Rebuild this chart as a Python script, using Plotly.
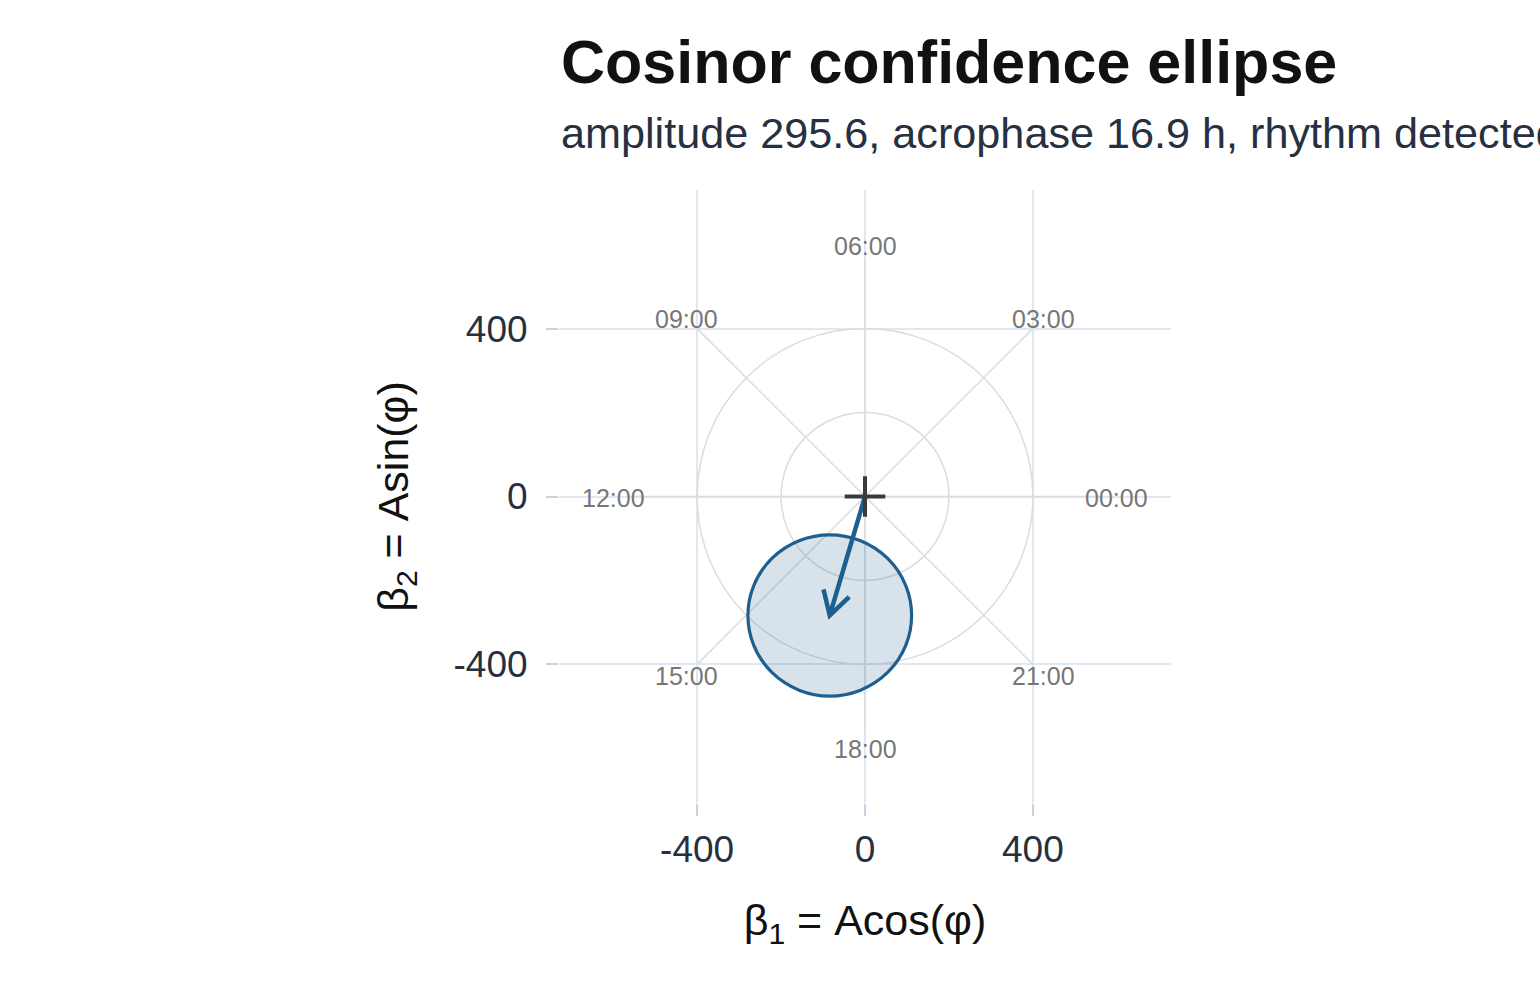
import numpy as np
import plotly.graph_objects as go

# ---- data ----
amplitude = 295.6          # A
acrophase_h = 16.9         # hours
ellipse_semi_x = 195.0     # confidence ellipse half-width (beta1 units)
ellipse_semi_y = 192.0     # confidence ellipse half-height (beta2 units)
ring_radii = [200, 400]
hour_values = [0, 3, 6, 9, 12, 15, 18, 21]
hour_labels = ["00:00", "03:00", "06:00", "09:00", "12:00", "15:00", "18:00", "21:00"]
tick_values = [-400, 0, 400]
tick_labels = ["-400", "0", "400"]

# ---- derived ----
phi = 2 * np.pi * acrophase_h / 24.0
beta1 = amplitude * np.cos(phi)
beta2 = amplitude * np.sin(phi)

FONT = "Liberation Sans, Arial, sans-serif"
BLUE = "#1f5f8f"
GUIDE = "#dcdcdc"
LABEL_R = 600
SPOKE_R = 400 * np.sqrt(2)
HEAD_LEN = 64
HEAD_ANG = np.deg2rad(30)
AX_RANGE = [-729, 729]

fig = go.Figure()

shapes = []
for r in ring_radii:
    shapes.append(dict(type="circle", xref="x", yref="y", x0=-r, x1=r, y0=-r, y1=r,
                       line=dict(color=GUIDE, width=1.5), layer="between"))
for h in hour_values:
    a = 2 * np.pi * h / 24.0
    shapes.append(dict(type="line", xref="x", yref="y", x0=0, y0=0,
                       x1=SPOKE_R * np.cos(a), y1=SPOKE_R * np.sin(a),
                       line=dict(color=GUIDE, width=1.5), layer="between"))
shapes.append(dict(type="circle", xref="x", yref="y",
                   x0=beta1 - ellipse_semi_x, x1=beta1 + ellipse_semi_x,
                   y0=beta2 - ellipse_semi_y, y1=beta2 + ellipse_semi_y,
                   fillcolor="rgba(31,95,143,0.18)", line=dict(color=BLUE, width=3.2),
                   layer="between"))

# hour labels
annotations = []
for h, lab in zip(hour_values, hour_labels):
    a = 2 * np.pi * h / 24.0
    annotations.append(dict(x=LABEL_R * np.cos(a), y=LABEL_R * np.sin(a), xref="x", yref="y",
                            text=lab, showarrow=False, xanchor="center", yanchor="middle",
                            yshift=-1,
                            font=dict(family=FONT, size=25, color="#777777")))

# arrow shaft
fig.add_trace(go.Scatter(x=[0, beta1], y=[0, beta2], mode="lines",
                         line=dict(color=BLUE, width=4.5), hoverinfo="skip", showlegend=False))
# arrow head (open chevron)
back = np.arctan2(-beta2, -beta1)
hx1 = beta1 + HEAD_LEN * np.cos(back + HEAD_ANG)
hy1 = beta2 + HEAD_LEN * np.sin(back + HEAD_ANG)
hx2 = beta1 + HEAD_LEN * np.cos(back - HEAD_ANG)
hy2 = beta2 + HEAD_LEN * np.sin(back - HEAD_ANG)
fig.add_trace(go.Scatter(x=[hx1, beta1, hx2], y=[hy1, beta2, hy2], mode="lines",
                         line=dict(color=BLUE, width=4.5), hoverinfo="skip", showlegend=False))

# origin cross
fig.add_trace(go.Scatter(x=[0], y=[0], mode="markers",
                         marker=dict(symbol="cross-thin", size=29,
                                     line=dict(color="#3a3a3a", width=4)),
                         hoverinfo="skip", showlegend=False))

axis_common = dict(
    range=AX_RANGE, tickvals=tick_values, ticktext=tick_labels,
    ticks="outside", ticklen=12, tickwidth=2, tickcolor="#c8d2e1",
    showgrid=True, gridcolor="#e1e7f0", gridwidth=2,
    zeroline=False, showline=False,
    tickfont=dict(family=FONT, size=37, color="#263040"),
)

annotations += [
    dict(text="<b>Cosinor confidence ellipse</b>", xref="paper", yref="paper",
         x=0, y=(803 - 62) / 613, xanchor="left", yanchor="middle", showarrow=False,
         font=dict(family=FONT, size=61, color="#111111")),
    dict(text="amplitude 295.6, acrophase 16.9 h, rhythm detected", xref="paper", yref="paper",
         x=0, y=(803 - 133) / 613, xanchor="left", yanchor="middle", showarrow=False,
         font=dict(family=FONT, size=43.2, color="#263040")),
]

fig.update_layout(
    width=1540, height=990,
    margin=dict(l=559, r=369, t=190, b=187),
    paper_bgcolor="white", plot_bgcolor="white",
    shapes=shapes,
    xaxis=dict(**axis_common, ticklabelstandoff=2,
               title=dict(text="β<sub>1</sub> = Acos(φ)", standoff=35,
                          font=dict(family=FONT, size=43, color="#111111"))),
    yaxis=dict(**axis_common, ticklabelstandoff=11, scaleanchor="x", scaleratio=1,
               title=dict(text="β<sub>2</sub> = Asin(φ)", standoff=31,
                          font=dict(family=FONT, size=43, color="#111111"))),
    annotations=annotations,
    showlegend=False,
)

fig.write_html("out.html")
